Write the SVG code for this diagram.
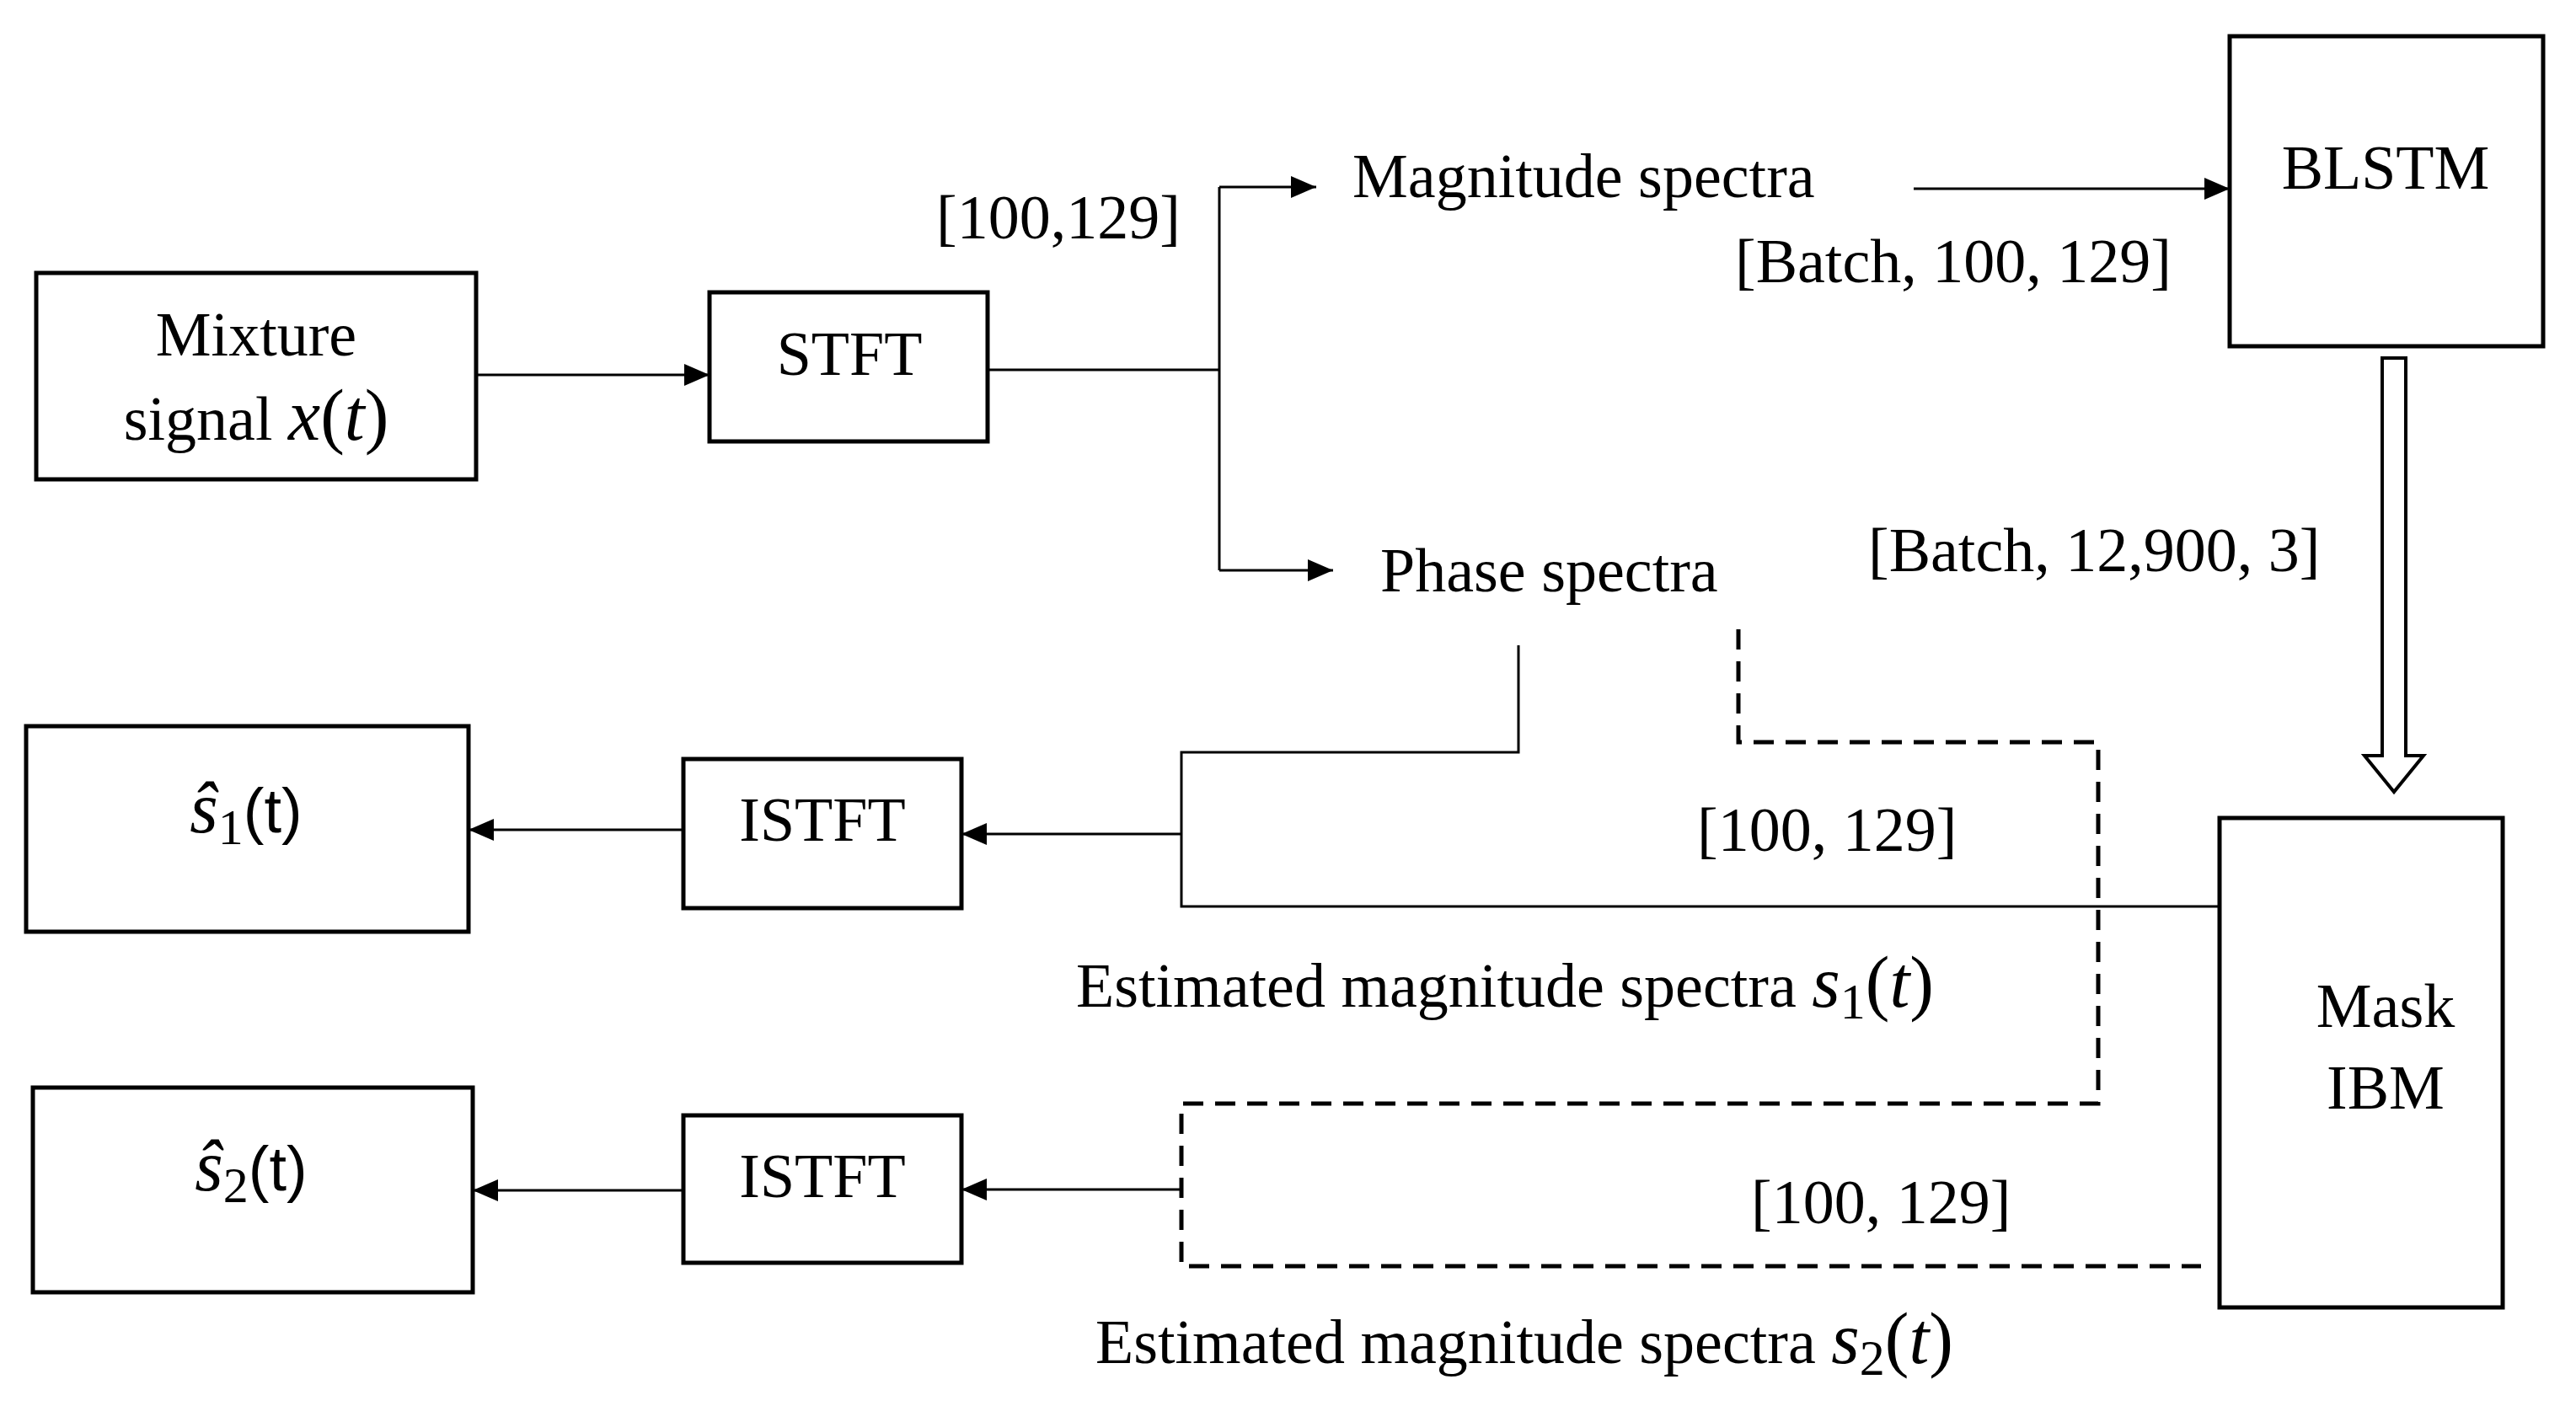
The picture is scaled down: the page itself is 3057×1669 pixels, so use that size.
<svg xmlns="http://www.w3.org/2000/svg" width="3057" height="1669" viewBox="0 0 3057 1669">
<style>
text{font-family:"Liberation Serif","Times New Roman",serif;font-size:74px;fill:#000}
.m{text-anchor:middle}
.i{font-style:italic;font-size:86px}
.p{font-size:86px}
.sb{font-size:60px}
.box{fill:#fff;stroke:#000;stroke-width:5}
.ln{fill:none;stroke:#000;stroke-width:3}
.ds{fill:none;stroke:#000;stroke-width:5;stroke-dasharray:24,14}
</style>
<defs>
<marker id="b" viewBox="0 0 10 10" refX="10" refY="5" markerWidth="30" markerHeight="26" markerUnits="userSpaceOnUse" orient="auto" preserveAspectRatio="none">
<path d="M0,0L10,5L0,10z" fill="#000"/>
</marker>
</defs>
<g id="connectors">
<path class="ln" d="M565,445H842" marker-end="url(#b)"/>
<path class="ln" d="M1172,439H1447"/>
<path class="ln" d="M1447,222V677"/>
<path class="ln" d="M1447,222H1562" marker-end="url(#b)"/>
<path class="ln" d="M1447,677H1582" marker-end="url(#b)"/>
<path class="ln" d="M2271,224H2646" marker-end="url(#b)"/>
<path d="M2827,425H2855V897H2876L2841,940L2806,897H2827Z" fill="#fff" stroke="#000" stroke-width="4"/>
<path class="ln" d="M1802,766V893H1402V1076H2634"/>
<path class="ln" d="M1402,990H1141" marker-end="url(#b)"/>
<path class="ln" d="M811,985H556" marker-end="url(#b)"/>
<path class="ds" d="M2063,747V881H2490V1310H1402V1503H2612"/>
<path class="ln" d="M1402,1412H1141" marker-end="url(#b)"/>
<path class="ln" d="M811,1413H561" marker-end="url(#b)"/>
</g>
<g id="mixture"><rect class="box" x="43" y="324" width="522" height="245"/>
<text class="m" x="304" y="422">Mixture</text>
<text class="m" x="304" y="522">signal <tspan class="i">x</tspan><tspan class="p">(</tspan><tspan class="i">t</tspan><tspan class="p">)</tspan></text></g>
<g id="stft"><rect class="box" x="842" y="347" width="330" height="177"/><text class="m" x="1008" y="445">STFT</text></g>
<g id="blstm"><rect class="box" x="2646" y="43" width="372" height="368"/><text class="m" x="2831" y="224">BLSTM</text></g>
<g id="mask"><rect class="box" x="2634" y="971" width="336" height="581"/>
<text class="m" x="2831" y="1219">Mask</text><text class="m" x="2831" y="1316">IBM</text></g>
<g id="istft1"><rect class="box" x="811" y="901" width="330" height="177"/><text class="m" x="976" y="998">ISTFT</text></g>
<g id="istft2"><rect class="box" x="811" y="1324" width="330" height="175"/><text class="m" x="976" y="1421">ISTFT</text></g>
<g id="s1"><rect class="box" x="31" y="862" width="525" height="244"/>
<text class="m" x="292" y="988"><tspan class="i">ŝ</tspan><tspan class="sb" dy="14">1</tspan><tspan dy="-14" font-family="Liberation Sans">(t)</tspan></text></g>
<g id="s2"><rect class="box" x="39" y="1291" width="522" height="243"/>
<text class="m" x="298" y="1413"><tspan class="i">ŝ</tspan><tspan class="sb" dy="14">2</tspan><tspan dy="-14" font-family="Liberation Sans">(t)</tspan></text></g>
<g id="labels">
<text x="1605" y="234">Magnitude spectra</text>
<text x="1638" y="702">Phase spectra</text>
<text x="1111" y="283">[100,129]</text>
<text x="2059" y="335">[Batch, 100, 129]</text>
<text x="2217" y="678">[Batch, 12,900, 3]</text>
<text x="2014" y="1010">[100, 129]</text>
<text x="2078" y="1452">[100, 129]</text>
<text x="1277" y="1195">Estimated magnitude spectra <tspan class="i">s</tspan><tspan class="sb" dy="14">1</tspan><tspan class="p" dy="-14">(</tspan><tspan class="i">t</tspan><tspan class="p">)</tspan></text>
<text x="1300" y="1618">Estimated magnitude spectra <tspan class="i">s</tspan><tspan class="sb" dy="14">2</tspan><tspan class="p" dy="-14">(</tspan><tspan class="i">t</tspan><tspan class="p">)</tspan></text>
</g>
</svg>
